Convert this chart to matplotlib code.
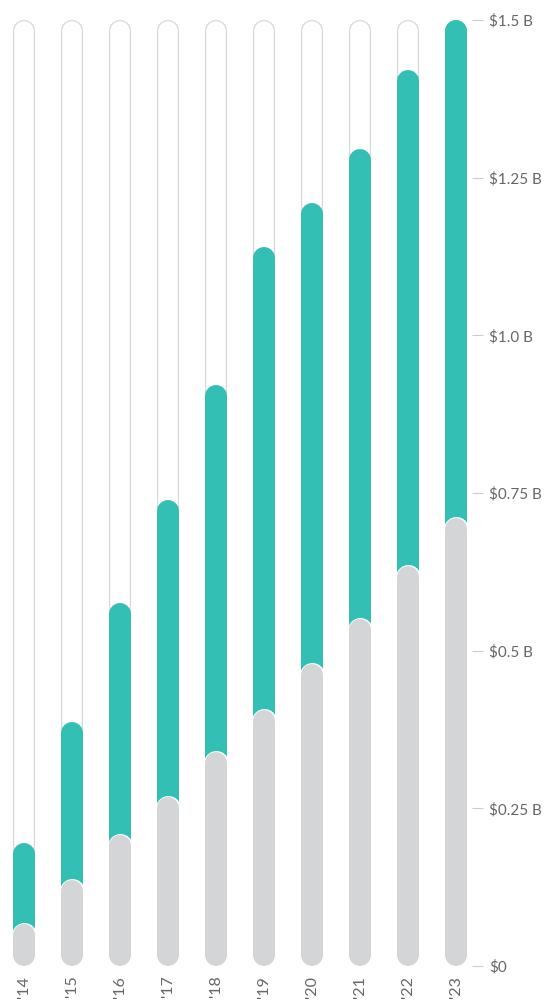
import matplotlib.pyplot as plt

years = ["'14", "'15", "'16", "'17", "'18", "'19", "'20", "'21", "'22", "'23"]
total = [0.195, 0.387, 0.576, 0.739, 0.921, 1.140, 1.210, 1.295, 1.420, 1.500]
base = [0.067, 0.136, 0.208, 0.268, 0.339, 0.406, 0.479, 0.550, 0.634, 0.710]
ticks = [0, 0.25, 0.5, 0.75, 1.0, 1.25, 1.5]
tick_labels = ["$0", "$0.25 B", "$0.5 B", "$0.75 B", "$1.0 B", "$1.25 B", "$1.5 B"]
y_max = 1.5

TEAL = "#33bfb3"
GRAY = "#d4d5d7"
OUTLINE = "#d6d6d6"
TEXT = "#666666"

plt.rcParams["font.family"] = ["Lato", "DejaVu Sans"]

W, H, DPI = 546, 1000, 100
fig = plt.figure(figsize=(W / DPI, H / DPI), dpi=DPI)
ax = fig.add_axes([0, 34 / H, 472 / W, (966 - 20) / H])
ax.set_xlim(-0.5, (472 - 24) / 48)
ax.set_ylim(0, y_max)

bar_px = 22
px_per_unit = (966 - 20) / y_max


def capsule(x, y0, y1, width_px, color, z):
    # round-capped line whose outer ends sit exactly at y0 and y1
    r = width_px / 2 / px_per_unit
    ax.plot([x, x], [y0 + r, y1 - r], color=color, lw=width_px * 72 / DPI,
            solid_capstyle="round", zorder=z)


for i, (t, b) in enumerate(zip(total, base)):
    capsule(i, 0, y_max, bar_px, OUTLINE, 1)
    capsule(i, 1.2 / px_per_unit, y_max - 1.2 / px_per_unit, bar_px - 2.4, "white", 2)
    capsule(i, 0, t, bar_px, TEAL, 3)
    capsule(i, -1.5 / px_per_unit, b + 1.5 / px_per_unit, bar_px + 3, "white", 4)
    capsule(i, 0, b, bar_px, GRAY, 5)

for s in ax.spines.values():
    s.set_visible(False)

ax.yaxis.tick_right()
ax.set_yticks(ticks)
ax.set_yticklabels(tick_labels)
ax.tick_params(axis="y", length=8, width=0.8, color="#cccccc", pad=4.5,
               labelcolor=TEXT, labelsize=11)
for lbl in ax.get_yticklabels():
    lbl.set_va("center_baseline")

ax.set_xticks(range(len(years)))
ax.set_xticklabels(years, rotation=90, va="top")
ax.tick_params(axis="x", length=0, pad=7, labelcolor=TEXT, labelsize=11.5)

fig.savefig("out.png", dpi=DPI)
